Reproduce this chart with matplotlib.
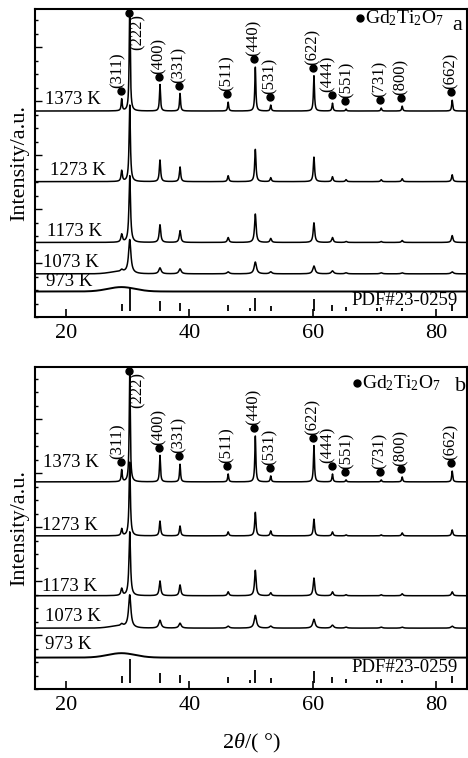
import numpy as np
import matplotlib
matplotlib.use('Agg')
import matplotlib.pyplot as plt

plt.rcParams['font.family'] = ['Liberation Serif', 'DejaVu Serif']
plt.rcParams['mathtext.fontset'] = 'custom'
plt.rcParams['mathtext.rm'] = 'Liberation Serif'
plt.rcParams['mathtext.it'] = 'Liberation Serif:italic'

# Gd2Ti2O7 reflections (2theta, deg)
hkl = ['(311)', '(222)', '(400)', '(331)', '(511)', '(440)', '(531)',
       '(622)', '(444)', '(551)', '(731)', '(800)', '(662)']
peak_pos = [29.05, 30.35, 35.25, 38.5, 46.3, 50.7, 53.2,
            60.2, 63.2, 65.4, 71.1, 74.5, 82.6]

temps = ['973 K', '1073 K', '1173 K', '1273 K', '1373 K']

# peak heights (a.u.), panel a
a_1373 = [12, 112, 27, 18, 9, 45, 6, 36, 8, 2, 3, 5, 11]
a_1273 = [11, 78, 22, 15, 6, 33, 4, 25, 5, 2, 2, 3, 7]
a_1173 = [8, 68, 18, 12, 5, 29, 4, 20, 5, 1, 1, 2, 7]
a_1073 = [2, 34, 6, 5, 2, 12, 2, 8, 3, 1, 1, 1, 2]
# panel b
b_1373 = [12, 112, 27, 18, 8, 47, 6, 37, 8, 2, 2, 5, 11]
b_1273 = [7, 75, 15, 10, 4, 24, 5, 17, 4, 1, 1, 3, 6]
b_1173 = [7, 65, 15, 11, 4, 26, 3, 18, 4, 1, 1, 2, 4]
b_1073 = [2, 33, 8, 5, 2, 13, 2, 9, 3, 1, 1, 1, 2]

# baselines of the stacked patterns (973..1373 K)
a_offsets = [20, 38, 70, 132, 204]
b_offsets = [26, 56, 89, 150, 205]
# peak width (fwhm, deg) for 1073..1373 K
fwhm = [0.45, 0.3, 0.25, 0.2]
# broad amorphous hump: 973 K and 1073 K
hump_center = [29.0, 28.5]
hump_height = [4.5, 2.0]
hump_sigma = [2.2, 1.5]

# PDF#23-0259 sticks
pdf_pos = [29.05, 30.35, 35.25, 38.5, 46.3, 49.9, 50.7, 53.2, 60.2,
           63.2, 65.4, 70.4, 71.1, 74.5, 82.6]
pdf_int = [7, 25, 10, 8, 6, 3, 13, 5, 12, 6, 4, 3, 4, 3, 7]

# small sideways nudges of the hkl labels (deg)
label_dx = [-0.4, 0, 0, 0, 0, 0, 0, 0, -0.6, 0.3, 0, 0, 0]

tt = np.linspace(15, 85, 4000)


def pattern(heights, w, offset):
    y = np.full_like(tt, float(offset))
    for p, h in zip(peak_pos, heights):
        y += h / (1 + ((tt - p) / (w / 2)) ** 2)
    return y


def hump(i, offset):
    return offset + hump_height[i] * np.exp(-0.5 * ((tt - hump_center[i]) / hump_sigma[i]) ** 2)


fig = plt.figure(figsize=(4.68, 7.58), dpi=100)
ax1 = fig.add_axes([35 / 468, 1 - 317 / 758, 432 / 468, 308 / 758])
ax2 = fig.add_axes([35 / 468, 1 - 689 / 758, 432 / 468, 322 / 758])

panels = [
    (ax1, [a_1073, a_1173, a_1273, a_1373], a_offsets, 308, 'a',
     [(16.8, 2), (16.3, 3), (17.0, 3), (17.4, 3), (16.6, 3)]),
    (ax2, [b_1073, b_1173, b_1273, b_1373], b_offsets, 322, 'b',
     [(16.6, 5), (16.6, 3), (16.1, 1), (16.1, 2), (16.3, 11)]),
]

for ax, series, offs, ytop, letter, tpos in panels:
    # 973 K
    ax.plot(tt, hump(0, offs[0]), color='black', lw=1.4)
    for k, hts in enumerate(series):
        y = pattern(hts, fwhm[k], offs[k + 1])
        if k == 0:
            y = y + hump(1, 0)
        ax.plot(tt, y, color='black', lw=1.1)
    # temperature labels
    for k, t in enumerate(temps):
        ax.text(tpos[k][0], offs[k] + tpos[k][1], t, fontsize=13.5,
                ha='left', va='bottom')
    # reference sticks
    ax.vlines(pdf_pos, 0, pdf_int, color='black', lw=1.3)
    ax.text(0.979, 16 if letter == 'b' else 11, 'PDF#23-0259', fontsize=13.5,
            ha='right', va='center', transform=ax.get_yaxis_transform())
    # hkl markers on 1373 K pattern
    top = series[-1]
    for lab, p, h, dx in zip(hkl, peak_pos, top, label_dx):
        if lab == '(222)':
            yd = ytop - 4
            ax.plot(p - 0.1, yd, 'o', color='black', ms=5, clip_on=False, zorder=5)
            ax.text(p + 1.3, yd - 1, lab, rotation=90, fontsize=12,
                    ha='center', va='top')
        else:
            yd = offs[-1] + h + 8
            ax.plot(p - 0.15, yd, 'o', color='black', ms=5)
            ax.text(p - 0.2 + dx, yd + 3, lab, rotation=90, fontsize=12,
                    ha='center', va='bottom')
    # legend and panel letter
    lx, ly = (0.752, 0.971) if letter == 'a' else (0.745, 0.950)
    ax.plot(lx, ly, 'o', color='black', ms=5, transform=ax.transAxes)
    ax.text(lx + 0.012, ly, r'Gd$_2$Ti$_2$O$_7$', fontsize=14,
            ha='left', va='center', transform=ax.transAxes)
    ax.text(0.977 if letter == 'a' else 0.984, 0.948 if letter == 'a' else 0.938,
            letter, fontsize=16, ha='center', va='center', transform=ax.transAxes)

    ax.set_xlim(15, 85)
    ax.set_ylim(0, ytop)
    ax.set_xticks([20, 40, 60, 80])
    ax.set_yticks(np.arange(49, ytop, 55))
    ax.set_yticks(np.arange(49 - 55, ytop, 13.75), minor=True)
    ax.tick_params(axis='x', direction='in', length=6, width=1.2,
                   labelsize=16, pad=5, top=False)
    ax.tick_params(axis='y', which='both', direction='in', labelleft=False,
                   right=False, width=1.0)
    ax.tick_params(axis='y', which='major', length=5)
    ax.tick_params(axis='y', which='minor', length=2.5)
    for s in ax.spines.values():
        s.set_linewidth(1.5)
    ax.set_ylabel('Intensity/a.u.', fontsize=16, labelpad=4)

ax2.set_xlabel(r'2$\mathit{\theta}$/( °)', fontsize=16, labelpad=12)

fig.savefig('out.png', dpi=100)
